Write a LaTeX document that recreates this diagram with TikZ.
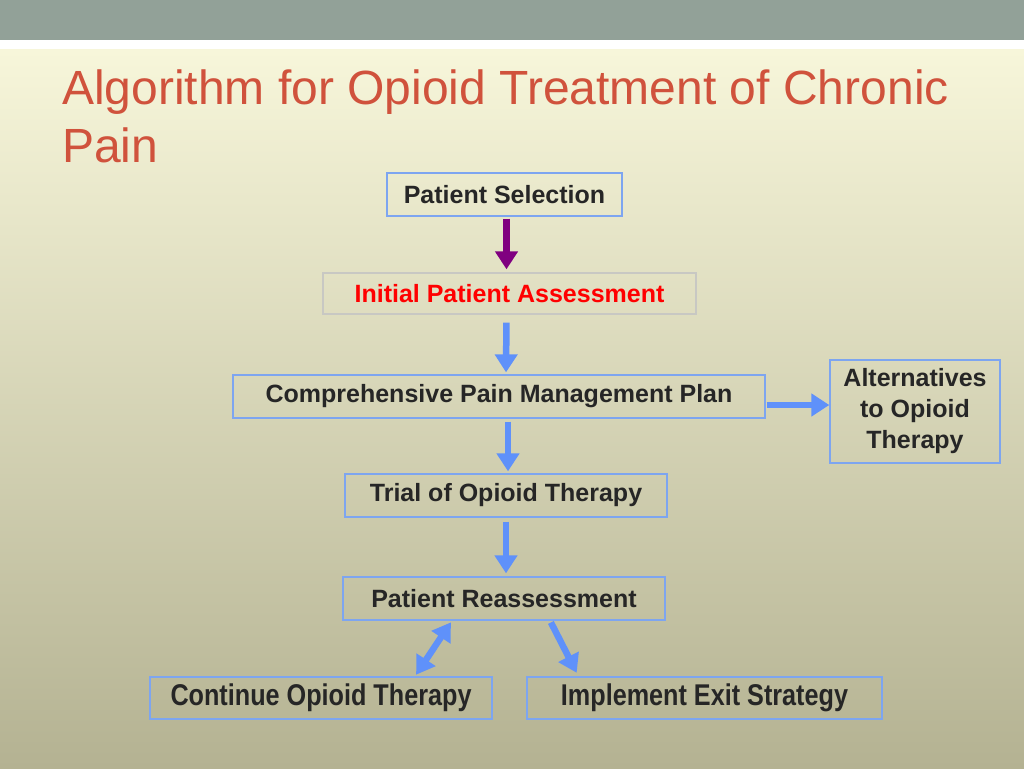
\documentclass[tikz,border=0pt]{standalone}
\usepackage{fontspec}
\setmainfont{Liberation Sans}
\newfontfamily\narrowfont{Liberation Sans}[FakeStretch=0.84]
\usetikzlibrary{arrows.meta,positioning}
\definecolor{barcol}{RGB}{146,161,152}
\definecolor{bgtop}{RGB}{247,246,218}
\definecolor{bgbot}{RGB}{180,178,146}
\definecolor{titlecol}{RGB}{208,82,60}
\definecolor{boxline}{RGB}{125,165,240}
\definecolor{greyline}{RGB}{200,200,195}
\definecolor{arrowblue}{RGB}{95,145,250}
\definecolor{arrowpurple}{RGB}{128,0,128}
\definecolor{textcol}{RGB}{38,38,38}

\tikzset{
  stepbox/.style={draw=boxline, line width=1.3pt, text=textcol, inner sep=0pt,
    font=\fontsize{25}{31}\selectfont\bfseries, align=center},
  lowbox/.style={stepbox, font=\narrowfont\fontsize{30}{34}\selectfont\bfseries},
  flow/.style={draw=arrowblue, line width=6.5pt, -{Triangle[width=22pt,length=18pt]}},
  twoway/.style={draw=arrowblue, line width=6.5pt,
    {Triangle[width=22pt,length=18pt]}-{Triangle[width=22pt,length=18pt]}},
}

\begin{document}
\begin{tikzpicture}[x=1pt, y=-1pt]
        % background
        \useasboundingbox (0,0) rectangle (1024,768);
        \fill[white] (0,0) rectangle (1024,768);
        \fill[barcol] (0,0) rectangle (1024,40);
        \shade[top color=bgtop, bottom color=bgbot] (0,50) rectangle (1024,768);

        % title
        \node[anchor=base west, inner sep=0pt, text=titlecol, align=left,
          font=\fontsize{48}{58}\selectfont] (title) at (62,162)
          {Algorithm for Opioid Treatment of Chronic\\Pain};

        % boxes
        \node[stepbox, minimum width=235pt, minimum height=43pt] (select) at (504.5,194.5) {Patient Selection};
        \node[stepbox, draw=greyline, text=red, minimum width=373pt, minimum height=41pt] (assess) at (509.5,293.5) {Initial Patient Assessment};
        \node[stepbox, minimum width=532pt, minimum height=43pt] (plan) at (499,396.5) {Comprehensive Pain Management Plan};
        \node[stepbox, minimum width=170pt, minimum height=103pt] (alt) at (915,411.5) {Alternatives\\to Opioid\\Therapy};
        \node[stepbox, minimum width=322pt, minimum height=43pt] (trial) at (506,495.5) {Trial of Opioid Therapy};
        \node[stepbox, minimum width=322pt, minimum height=43pt] (reass) at (504,598.5) {Patient Reassessment};
        \node[lowbox, minimum width=342pt, minimum height=42pt] (cont) at (321,698) {Continue Opioid Therapy};
        \node[lowbox, minimum width=355pt, minimum height=42pt] (exit) at (704.5,698) {Implement Exit Strategy};

        % arrows
        \draw[flow, draw=arrowpurple, shorten <=2pt, shorten >=3pt] ([xshift=2pt]select.south) -- ([xshift=-3pt]assess.north);
        \draw[flow, shorten <=8pt, shorten >=2pt] ([xshift=-3pt]assess.south) -- ([xshift=7pt]plan.north);
        \draw[flow, shorten <=3pt, shorten >=2pt] ([xshift=9pt]plan.south) -- ([xshift=2pt]trial.north);
        \draw[flow, shorten <=4pt, shorten >=3pt] (trial.south) -- ([xshift=2pt]reass.north);
        \draw[flow, shorten <=1pt, shorten >=0pt] (plan.east |- 0,405) -- (alt.west |- 0,405);
        \draw[twoway, shorten <=2pt, shorten >=2pt] ([xshift=-52pt]reass.south) -- ([xshift=94pt]cont.north);
        \draw[flow, shorten <=2pt, shorten >=4pt] ([xshift=46pt]reass.south) -- ([xshift=-126pt]exit.north);
\end{tikzpicture}
\end{document}
